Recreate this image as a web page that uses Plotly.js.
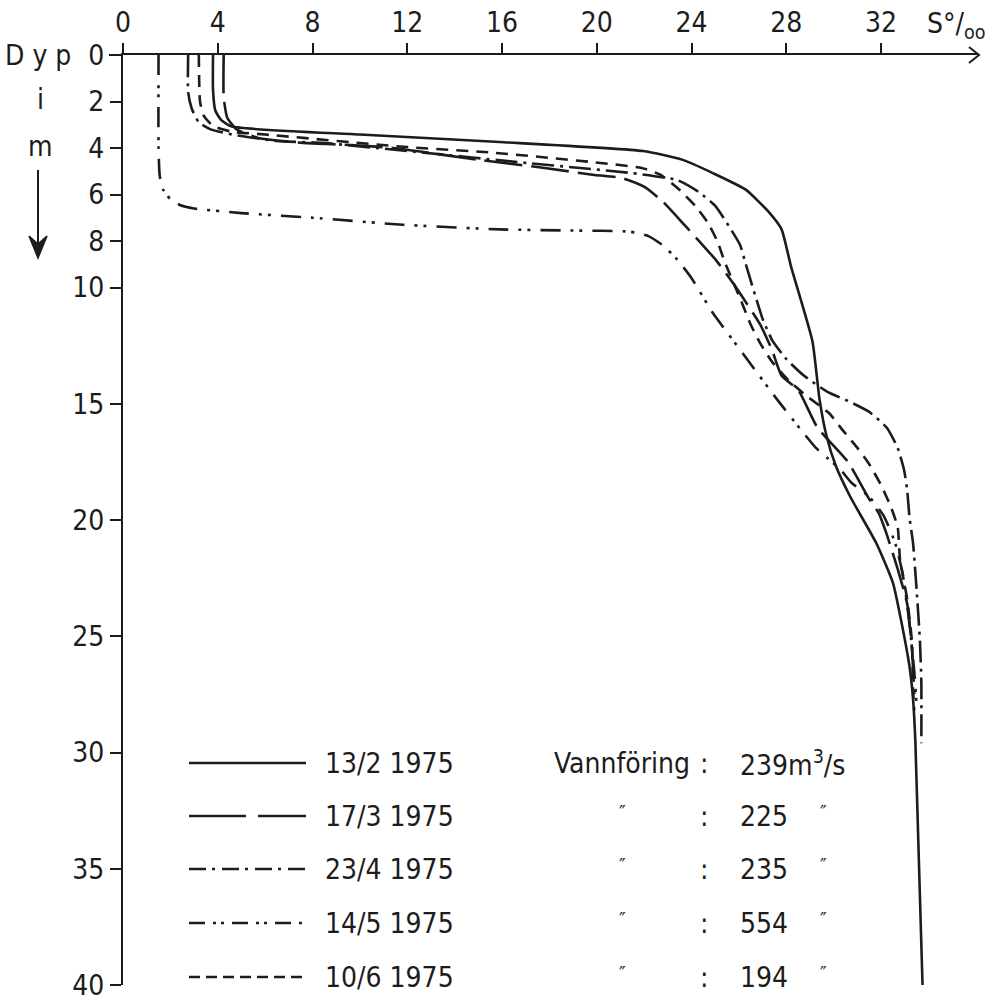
<!DOCTYPE html>
<html><head><meta charset="utf-8">
<script src="https://cdn.plot.ly/plotly-3.0.1.min.js"></script>
<style>html,body{margin:0;padding:0;background:#fff}</style>
</head><body><div id="chart" style="width:998px;height:1003px"></div>
<script>
// ---- data ----
const salinityTicks = [0,4,8,12,16,20,24,28,32];
const depthTicks = [0,2,4,6,8,10,15,20,25,30,35,40];
const seriesDates = ['13/2 1975','17/3 1975','23/4 1975','14/5 1975','10/6 1975'];
const flowValues = ['239','225','235','554','194'];

const depth_1302 = [0,1.5,2.4,2.8,3.08,3.42,3.74,4.13,4.5,5.08,5.8,6.8,7.5,9.1,12.3,14.8,16.4,17.7,19.0,21.0,22.7,24.6,26.3,27.7,29.6,40];
const sal_1302   = [3.8,3.8,3.9,4.15,4.6,10.0,15.9,21.95,23.6,24.9,26.3,27.3,27.8,28.2,29.1,29.4,29.7,30.1,30.7,31.8,32.5,32.9,33.2,33.35,33.45,33.75];

const depth_1703 = [0,1.8,2.7,3.2,3.57,3.78,3.87,4.0,4.52,4.86,5.16,5.29,5.68,6.32,7.31,8.04,8.82,9.81,11.6,12.7,13.8,14.4,16.0,17.5,19.1,19.7,20.5,22.1,23.6,25.5,27.5];
const sal_1703   = [4.25,4.25,4.4,4.8,5.7,7.6,9.6,11.4,15.1,17.8,19.9,21.06,22.03,22.8,23.7,24.35,25.03,25.75,26.9,27.4,27.8,28.5,29.3,30.6,31.5,31.9,32.2,32.7,33.1,33.3,33.4];

const depth_2304 = [0,1.6,2.3,2.9,3.2,3.44,3.7,3.78,4.17,4.65,4.86,5.08,5.38,5.89,6.49,7.4,8.17,8.9,9.72,10.58,11.35,12.26,13.08,13.8,14.5,14.9,15.35,16.04,16.9,17.85,18.7,19.9,21.0,23.0,25.2,27.0,29.6];
const sal_2304   = [2.75,2.75,2.9,3.2,3.7,4.7,6.5,8.4,12.4,17.1,19.3,21.5,23.4,24.3,25.0,25.6,26.05,26.26,26.5,26.76,27.0,27.4,28.0,28.75,29.76,30.65,31.5,32.25,32.7,32.97,33.1,33.2,33.35,33.5,33.64,33.7,33.7];

const depth_1405 = [0,4.0,5.2,5.8,6.2,6.45,6.6,6.8,7.0,7.3,7.5,7.55,7.6,7.8,8.2,8.8,9.6,11.1,12.2,13.3,14.8,16.1,16.9,17.3,17.85,18.4,19.0,19.8,21.0,22.5,24.5,26.5,28.0];
const sal_1405   = [1.5,1.5,1.55,1.7,2.0,2.4,3.0,5.0,8.0,11.8,15.9,19.0,21.4,22.2,22.8,23.4,24.0,24.9,25.7,26.5,27.6,28.6,29.25,29.7,30.3,30.75,31.5,32.1,32.6,32.95,33.2,33.4,33.5];

const depth_1006 = [0,2.0,2.6,3.05,3.3,3.42,3.96,4.2,4.86,5.16,5.81,6.54,7.23,8.04,8.9,10.6,11.6,12.4,13.2,14.0,14.7,15.4,16.1,16.9,17.6,18.5,19.4,20.3,21.7,23.4,25.2,27.3,28.2];
const sal_1006   = [3.2,3.25,3.4,3.8,4.6,6.0,12.0,15.6,21.9,22.7,23.5,24.2,24.7,25.1,25.4,26.1,26.5,26.9,27.4,28.1,28.9,29.8,30.35,31.0,31.5,32.0,32.4,32.7,32.8,33.1,33.3,33.35,33.4];

// ---- styles ----
const ink = '#1c1c1c';
const dashes = ['solid','38px,9px','22px,6px,3px,6px','20px,10px,3px,6px,3px,10px','12px,8px'];
const legendDashes = ['solid','57px,12px','17px,6px,3px,7px','16px,8px,3px,5px,3px,8px','11px,6px'];
const series = [
  [sal_1302, depth_1302],[sal_1703, depth_1703],[sal_2304, depth_2304],
  [sal_1405, depth_1405],[sal_1006, depth_1006]
];
const fontFam = '"Liberation Sans Narrow", "DejaVu Sans Condensed", "Liberation Sans", sans-serif';

const traces = series.map((s,i)=>({
  type:'scatter', mode:'lines', x:s[0], y:s[1], name:seriesDates[i],
  line:{color:ink, width:2.6, dash:dashes[i], shape:'spline', smoothing:0.5},
  hoverinfo:'skip', showlegend:false
}));

// ---- layout geometry ----
const W=998, H=1003, M={l:123, r:20, t:55, b:18};
const pw=W-M.l-M.r, ph=H-M.t-M.b;
const px2x = p => (p-M.l)/pw;           // pixel -> paper x (decoration only)
const py2y = p => (H-M.b-p)/ph;         // pixel -> paper y (decoration only)

const shapes = [];
const ann = [];
// axis overhangs and arrow heads
shapes.push({type:'line', xref:'paper', yref:'paper', x0:px2x(109), x1:0, y0:1, y1:1, line:{color:ink,width:2}});
shapes.push({type:'line', xref:'paper', yref:'paper', x0:0, x1:0, y0:1, y1:py2y(43), line:{color:ink,width:2}});
shapes.push({type:'path', xref:'paper', yref:'paper',
  path:`M ${px2x(969)},${py2y(47)} L ${px2x(979)},${py2y(55)} L ${px2x(969)},${py2y(63)}`, line:{color:ink,width:2}});
// down arrow by the depth label
shapes.push({type:'line', xref:'paper', yref:'paper', x0:px2x(38), x1:px2x(38), y0:py2y(170), y1:py2y(255), line:{color:ink,width:2}});
shapes.push({type:'path', xref:'paper', yref:'paper',
  path:`M ${px2x(29)},${py2y(236)} L ${px2x(38)},${py2y(258)} L ${px2x(47)},${py2y(236)} L ${px2x(38)},${py2y(244)} Z`,
  fillcolor:ink, line:{color:ink,width:1.5}});

const tf = {family:fontFam, size:28, color:ink};
const df = {family:fontFam, size:20, color:ink};
ann.push({xref:'paper', yref:'paper', x:px2x(73), y:1, xanchor:'right', yanchor:'middle', text:'D y p', showarrow:false, font:tf});
ann.push({xref:'paper', yref:'paper', x:px2x(40), y:py2y(99), xanchor:'center', yanchor:'middle', text:'i', showarrow:false, font:tf});
ann.push({xref:'paper', yref:'paper', x:px2x(40), y:py2y(146), xanchor:'center', yanchor:'middle', text:'m', showarrow:false, font:tf});
ann.push({xref:'paper', yref:'paper', x:px2x(925), y:py2y(26), xanchor:'left', yanchor:'middle', text:'S°/<sub>oo</sub>', showarrow:false, font:tf});

// legend
const rowsY = [763, 816, 869, 923, 977];
rowsY.forEach((yy,i)=>{
  shapes.push({type:'line', xref:'paper', yref:'paper', x0:px2x(189), x1:px2x(306), y0:py2y(yy), y1:py2y(yy),
    line:{color:ink, width:2.6, dash:legendDashes[i]}});
  ann.push({xref:'paper', yref:'paper', x:px2x(323), y:py2y(yy), xanchor:'left', yanchor:'middle', text:seriesDates[i], showarrow:false, font:tf});
  if(i===0){
    ann.push({xref:'paper', yref:'paper', x:px2x(692), y:py2y(yy), xanchor:'right', yanchor:'middle', text:'Vannföring', showarrow:false, font:tf});
    ann.push({xref:'paper', yref:'paper', x:px2x(698), y:py2y(yy), xanchor:'left', yanchor:'middle', text:':', showarrow:false, font:tf});
    ann.push({xref:'paper', yref:'paper', x:px2x(738), y:py2y(yy), xanchor:'left', yanchor:'middle', text:flowValues[i]+'m<sup>3</sup>/s', showarrow:false, font:tf});
  } else {
    ann.push({xref:'paper', yref:'paper', x:px2x(622), y:py2y(yy-4), xanchor:'center', yanchor:'middle', text:'″', showarrow:false, font:df});
    ann.push({xref:'paper', yref:'paper', x:px2x(698), y:py2y(yy), xanchor:'left', yanchor:'middle', text:':', showarrow:false, font:tf});
    ann.push({xref:'paper', yref:'paper', x:px2x(738), y:py2y(yy), xanchor:'left', yanchor:'middle', text:flowValues[i], showarrow:false, font:tf});
    ann.push({xref:'paper', yref:'paper', x:px2x(823), y:py2y(yy-4), xanchor:'center', yanchor:'middle', text:'″', showarrow:false, font:df});
  }
});

const layout = {
  width:W, height:H, margin:M, paper_bgcolor:'#fff', plot_bgcolor:'#fff', showlegend:false,
  xaxis:{side:'top', range:[0, pw/23.69], tickvals:salinityTicks, ticktext:salinityTicks.map(String),
    ticks:'outside', ticklen:10, tickwidth:2, tickcolor:ink, showline:true, linecolor:ink, linewidth:2,
    showgrid:false, zeroline:false, tickfont:tf, fixedrange:true},
  yaxis:{range:[40,0], tickvals:depthTicks, ticktext:depthTicks.map(String),
    ticks:'outside', ticklen:11, tickwidth:2, tickcolor:ink, showline:true, linecolor:ink, linewidth:2,
    showgrid:false, zeroline:false, tickfont:tf, fixedrange:true},
  shapes:shapes, annotations:ann
};
Plotly.newPlot('chart', traces, layout, {displayModeBar:false, staticPlot:true});
</script></body></html>
